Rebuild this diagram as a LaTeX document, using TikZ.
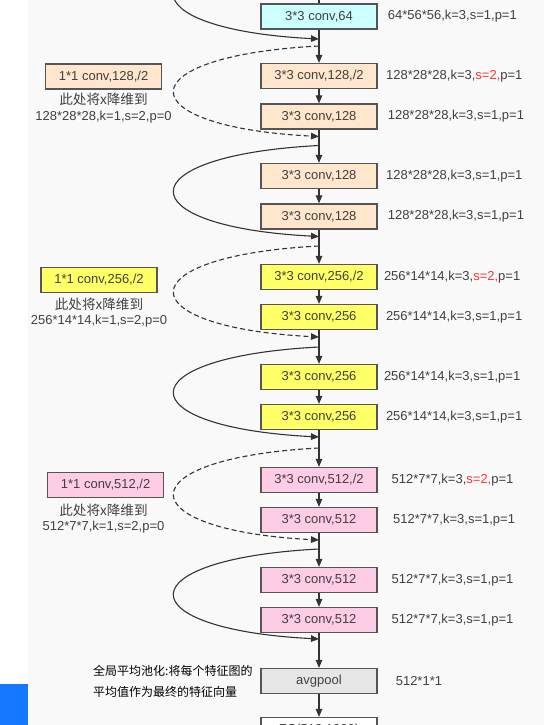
\documentclass[tikz,border=0pt]{standalone}
\usepackage{fontspec}
\setmainfont{Liberation Sans}
\newfontfamily\cjk{Noto Sans CJK SC}
\usetikzlibrary{arrows.meta}
\definecolor{bgc}{HTML}{F9F9F9}
\definecolor{linec}{HTML}{333333}
\definecolor{boxline}{HTML}{555555}
\definecolor{txt}{HTML}{404040}
\definecolor{redc}{HTML}{FF3333}
\definecolor{cyanf}{HTML}{CCFFFF}
\definecolor{peachf}{HTML}{FFE6CC}
\definecolor{yellowf}{HTML}{FFFF66}
\definecolor{pinkf}{HTML}{FFCCE6}
\definecolor{grayf}{HTML}{E6E6E6}
\definecolor{bluec}{HTML}{1677FF}
\tikzset{
  blk/.style={draw=boxline, line width=1.2pt, minimum width=116pt, minimum height=25pt, inner sep=0pt,
    font=\fontsize{13}{15}\selectfont, text=txt},
  lab/.style={anchor=west, inner sep=0pt, font=\fontsize{13}{15}\selectfont, text=txt},
  note/.style={inner sep=0pt, font=\fontsize{13}{15}\selectfont, text=txt},
  cjknote/.style={inner sep=0pt, font=\cjk\fontsize{13.6}{15}\selectfont, text=txt},
  cnote/.style={anchor=west, inner sep=0pt, font=\cjk\fontsize{12}{14}\selectfont, text=black},
  conn/.style={draw=linec, line width=1.1pt, -{Triangle[length=8pt,width=6.5pt]}},
  skipline/.style={draw=linec, line width=1.1pt, -{Triangle[length=8pt,width=6.5pt]}},
  dskip/.style={skipline, dash pattern=on 5pt off 3pt},
}
\newcommand{\rs}{\textcolor{redc}{s=2,}}
\begin{document}
\begin{tikzpicture}[x=1pt,y=-1pt]
\useasboundingbox (0,0) rectangle (544,725);
\clip (0,0) rectangle (544,725);
\fill[white] (0,0) rectangle (544,725);
\fill[bgc] (28,0) rectangle (544,725);
\fill[bluec] (0,684) rectangle (28,725);

% main column
\node[blk, fill=cyanf]   (b1)  at (319,16.5) {3*3 conv,64};
\node[blk, fill=peachf]  (b2)  at (319,76)   {3*3 conv,128,/2};
\node[blk, fill=peachf]  (b3)  at (319,116.5){3*3 conv,128};
\node[blk, fill=peachf]  (b4)  at (319,176)  {3*3 conv,128};
\node[blk, fill=peachf]  (b5)  at (319,216.5){3*3 conv,128};
\node[blk, fill=yellowf] (b6)  at (319,277)  {3*3 conv,256,/2};
\node[blk, fill=yellowf] (b7)  at (319,317)  {3*3 conv,256};
\node[blk, fill=yellowf] (b8)  at (319,377)  {3*3 conv,256};
\node[blk, fill=yellowf] (b9)  at (319,417)  {3*3 conv,256};
\node[blk, fill=pinkf]   (b10) at (319,480)  {3*3 conv,512,/2};
\node[blk, fill=pinkf]   (b11) at (319,520)  {3*3 conv,512};
\node[blk, fill=pinkf]   (b12) at (319,580)  {3*3 conv,512};
\node[blk, fill=pinkf]   (b13) at (319,620)  {3*3 conv,512};
\node[blk, fill=grayf]   (avg) at (319,681)  {avgpool};
\node[blk, fill=white]   (fc)  at (319,730)  {FC(512,1000)};

% right labels
\node[lab] (r1)  at (387.6,16.5) {64*56*56,k=3,s=1,p=1};
\node[lab] (r2)  at (386,76)     {128*28*28,k=3,\rs p=1};
\node[lab] (r3)  at (387.6,116.5){128*28*28,k=3,s=1,p=1};
\node[lab] (r4)  at (386,176)    {128*28*28,k=3,s=1,p=1};
\node[lab] (r5)  at (387.6,216.5){128*28*28,k=3,s=1,p=1};
\node[lab] (r6)  at (383.8,277)  {256*14*14,k=3,\rs p=1};
\node[lab] (r7)  at (385.8,317)  {256*14*14,k=3,s=1,p=1};
\node[lab] (r8)  at (383.8,377)  {256*14*14,k=3,s=1,p=1};
\node[lab] (r9)  at (385.8,417)  {256*14*14,k=3,s=1,p=1};
\node[lab] (r10) at (391.4,480)  {512*7*7,k=3,\rs p=1};
\node[lab] (r11) at (393,520)    {512*7*7,k=3,s=1,p=1};
\node[lab] (r12) at (391.4,580)  {512*7*7,k=3,s=1,p=1};
\node[lab] (r13) at (391.4,620)  {512*7*7,k=3,s=1,p=1};
\node[lab] (r14) at (395.6,681)  {512*1*1};

% left downsample boxes and notes
\node[blk, fill=peachf]  (l1) at (103.6,76.5) {1*1 conv,128,/2};
\node[cjknote] (l1a) at (103.5,99.3)  {此处将x降维到};
\node[note] (l1b) at (103.5,117.3) {128*28*28,k=1,s=2,p=0};
\node[blk, fill=yellowf] (l2) at (99,280) {1*1 conv,256,/2};
\node[cjknote] (l2a) at (99,304)    {此处将x降维到};
\node[note] (l2b) at (99,320.7)  {256*14*14,k=1,s=2,p=0};
\node[blk, fill=pinkf]   (l3) at (105.6,484.8) {1*1 conv,512,/2};
\node[cjknote] (l3a) at (103.5,510)   {此处将x降维到};
\node[note] (l3b) at (103.5,526.7) {512*7*7,k=1,s=2,p=0};

\node[cnote] (n1) at (93,670.7) {全局平均池化:将每个特征图的};
\node[cnote] (n2) at (93,691.7) {平均值作为最终的特征向量};

% junction coordinates
\coordinate (top) at (319,-10);
\coordinate (s0) at (319,-52); \coordinate (e0) at (319,39);
\coordinate (s1) at (319,46);  \coordinate (e1) at (319,136.5);
\coordinate (s2) at (319,145.5); \coordinate (e2) at (319,236.5);
\coordinate (s3) at (319,246); \coordinate (e3) at (319,337);
\coordinate (s4) at (319,347); \coordinate (e4) at (319,437);
\coordinate (s5) at (319,448); \coordinate (e5) at (319,540);
\coordinate (s6) at (319,549); \coordinate (e6) at (319,639);

% vertical connectors
\draw[draw=linec, line width=1.1pt] (top) -- (b1.north);
\foreach \a/\b in {b1/b2,b2/b3,b3/b4,b4/b5,b5/b6,b6/b7,b7/b8,b8/b9,b9/b10,b10/b11,b11/b12,b12/b13,b13/avg,avg/fc}
  \draw[conn] (\a.south) -- (\b.north);

% skip connections
\draw[skipline] (s0) .. controls (126,-42) and (126,29) .. (e0);
\draw[dskip] (s1) .. controls (126,56) and (126,126.5) .. (e1);
\draw[skipline] (s2) .. controls (126,155.5) and (126,226.5) .. (e2);
\draw[dskip] (s3) .. controls (126,256) and (126,327) .. (e3);
\draw[skipline] (s4) .. controls (126,357) and (126,427) .. (e4);
\draw[dskip] (s5) .. controls (126,458) and (126,530) .. (e5);
\draw[skipline] (s6) .. controls (126,559) and (126,629) .. (e6);
\end{tikzpicture}
\end{document}
